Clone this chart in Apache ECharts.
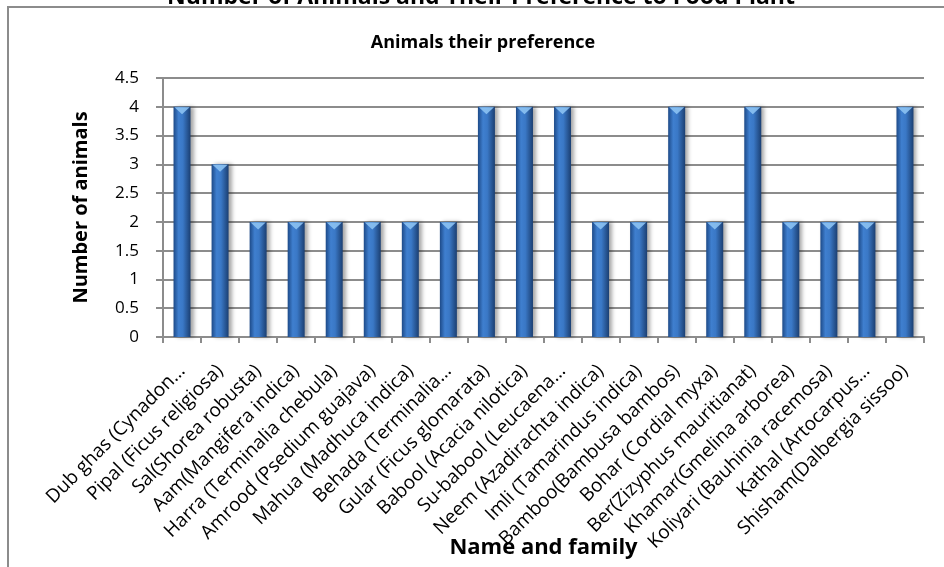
<!DOCTYPE html>
<html>
<head>
<meta charset="utf-8">
<script src="https://cdn.jsdelivr.net/npm/echarts@6/dist/echarts.min.js"></script>
<style>
html,body{margin:0;padding:0;background:#fff;}
#c{width:944px;height:567px;}
</style>
</head>
<body>
<div id="c"></div>
<script>
const categories = [
  "Dub ghas (Cynadon\u2026",
  "Pipal (Ficus religiosa)",
  "Sal(Shorea robusta)",
  "Aam(Mangifera indica)",
  "Harra (Terminalia chebula)",
  "Amrood (Psedium guajava)",
  "Mahua (Madhuca indica)",
  "Behada (Terminalia\u2026",
  "Gular (Ficus glomarata)",
  "Babool (Acacia nilotica)",
  "Su-babool (Leucaena\u2026",
  "Neem (Azadirachta indica)",
  "Imli (Tamarindus indica)",
  "Bamboo(Bambusa bambos)",
  "Bohar (Cordial myxa)",
  "Ber(Zizyphus mauritianat)",
  "Khamar(Gmelina arborea)",
  "Koliyari (Bauhinia racemosa)",
  "Kathal (Artocarpus\u2026",
  "Shisham(Dalbergia sissoo)"
];
const animals = [4, 3, 2, 2, 2, 2, 2, 2, 4, 4, 4, 2, 2, 4, 2, 4, 2, 2, 2, 4];
const mainTitle = "Number of Animals and Their Preference to Food Plant";
const chartTitle = "Animals their preference";
const yName = "Number of animals";
const xName = "Name and family";

const FONT = "'Open Sans', 'Noto Sans', sans-serif";
const chart = echarts.init(document.getElementById('c'), null, {renderer: 'canvas'});

chart.setOption({
  animation: false,
  backgroundColor: '#fff',
  textStyle: {fontFamily: FONT},
  graphic: [
    {type: 'rect', z: -10, shape: {x: 8, y: 7, width: 980, height: 620},
     style: {fill: 'none', stroke: '#8c8c8c', lineWidth: 2}},
    {type: 'text', x: 481, y: 9,
     style: {text: mainTitle, align: 'center', verticalAlign: 'bottom',
             font: "bold 23px 'Open Sans', sans-serif", fill: '#000'}},
    {type: 'text', x: 483, y: 43,
     style: {text: chartTitle, align: 'center', verticalAlign: 'middle',
             font: "bold 18px 'Open Sans', sans-serif", fill: '#000'}}
  ],
  grid: {left: 163, right: 20, top: 78, bottom: 230, containLabel: false, outerBoundsMode: 'none'},
  xAxis: {
    type: 'category',
    data: categories,
    boundaryGap: true,
    name: xName,
    nameLocation: 'middle',
    nameGap: 200,
    nameMoveOverlap: false,
    nameTextStyle: {fontFamily: FONT, fontWeight: 'bold', fontSize: 22, color: '#000'},
    axisLine: {lineStyle: {color: '#8c8c8c', width: 2}},
    axisTick: {show: true, length: 6, lineStyle: {color: '#8c8c8c', width: 2}},
    axisLabel: {rotate: 45, interval: 0, margin: 31, fontSize: 19, color: '#000', fontFamily: FONT},
    splitLine: {show: false}
  },
  yAxis: {
    type: 'value',
    min: 0, max: 4.5, interval: 0.5,
    name: yName,
    nameLocation: 'middle',
    nameGap: 72,
    nameMoveOverlap: false,
    nameTextStyle: {fontFamily: FONT, fontWeight: 'bold', fontSize: 20, color: '#000'},
    axisLine: {show: true, lineStyle: {color: '#8c8c8c', width: 2}},
    axisTick: {show: true, length: 7, lineStyle: {color: '#8c8c8c', width: 2}},
    axisLabel: {margin: 24, fontSize: 17, color: '#000', fontFamily: FONT,
                formatter: v => String(v)},
    splitLine: {show: true, lineStyle: {color: '#8c8c8c', width: 2}}
  },
  series: [
    {
      type: 'bar',
      data: animals,
      barWidth: 17,
      itemStyle: {
        color: new echarts.graphic.LinearGradient(0, 0, 1, 0, [
          {offset: 0, color: '#1d4a88'},
          {offset: 0.3, color: '#3f7fcf'},
          {offset: 0.55, color: '#3a78c6'},
          {offset: 1, color: '#1b3f72'}
        ]),
        shadowColor: 'rgba(0,0,0,0.35)',
        shadowBlur: 4,
        shadowOffsetX: 3,
        shadowOffsetY: 0
      },
      z: 2
    },
    {
      type: 'scatter',
      data: animals,
      symbol: 'triangle',
      symbolRotate: 180,
      symbolSize: [15, 7],
      symbolOffset: [0, 4],
      silent: true,
      itemStyle: {color: '#8cc2f2', opacity: 0.9},
      z: 3
    }
  ]
});
</script>
</body>
</html>
